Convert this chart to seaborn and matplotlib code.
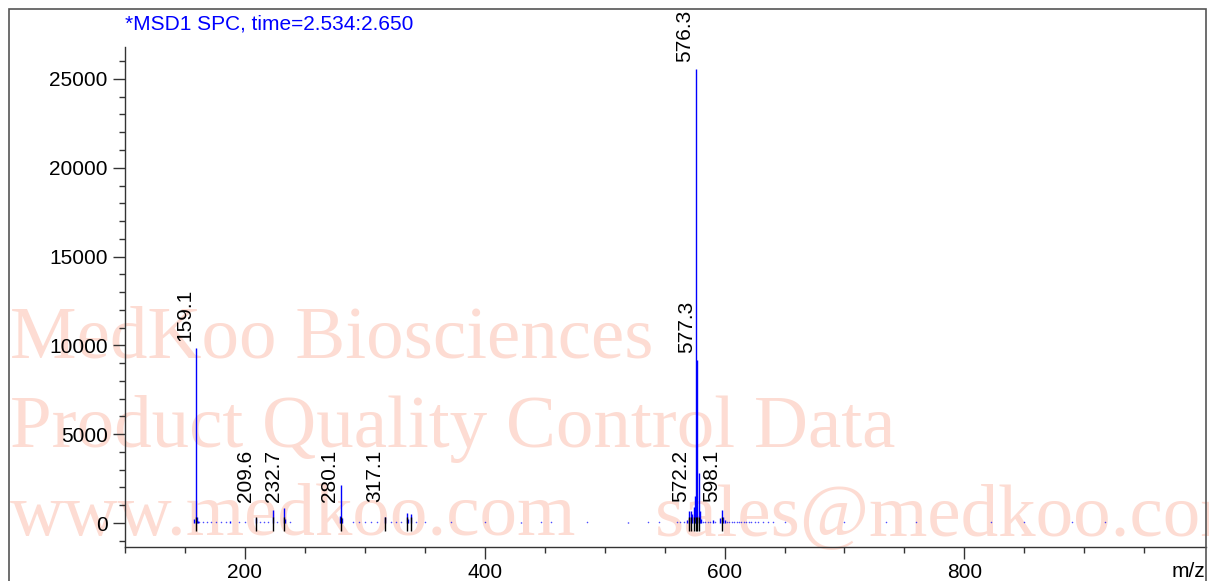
import numpy as np
import pandas as pd
import seaborn as sns
import matplotlib.pyplot as plt
from matplotlib.ticker import MultipleLocator, FixedLocator
from matplotlib.patches import Rectangle

# peak list (m/z, abundance)
mz = [157.9, 159.1, 160.1, 161.1, 187.6, 209.6, 223.3, 232.7, 233.7, 279.1, 280.1, 281.1,
      317.1, 335.4, 336.4, 338.4, 430.6, 519.8, 568.3, 570.3, 572.2, 573.2, 574.3, 575.3,
      576.3, 577.3, 578.3, 579.3, 580.3, 590.1, 596.1, 598.1, 599.1, 600.1]
abundance = [250, 9850, 350, 120, 90, 300, 730, 850, 200, 400, 2140, 300,
             340, 560, 200, 500, 80, 60, 150, 650, 700, 500, 900, 1500,
             25560, 9200, 2800, 700, 250, 150, 300, 730, 350, 150]

# peaks with black integration marks
marked = [159.1, 209.6, 223.3, 232.7, 280.1, 317.1, 335.4, 338.4, 570.3, 572.2,
          574.3, 576.3, 577.3, 578.3, 598.1]

# labelled peaks
labels = [159.1, 209.6, 232.7, 280.1, 317.1, 572.2, 577.3, 576.3, 598.1]

# baseline noise points
noise = [162, 165, 168, 172, 176, 180, 184, 195, 200, 213, 216, 219, 227, 238, 290, 295,
         300, 305, 310, 322, 326, 330, 343, 350, 372, 400, 447, 455, 485, 536, 545, 560,
         563, 566, 582, 584, 586, 588, 592, 602, 604, 606, 608, 610, 612, 614, 616, 618,
         620, 622, 625, 628, 632, 636, 640, 650, 700, 735, 760, 822, 850, 890, 917]

x_major = [200, 400, 600, 800]

df = pd.DataFrame({"mz": mz, "abundance": abundance})
noise_df = pd.DataFrame({"mz": noise, "abundance": [30] * len(noise)})

sns.set_theme(style="ticks")
plt.rcParams['font.family'] = ['Liberation Sans', 'DejaVu Sans']

fig = plt.figure(figsize=(12.09, 5.81), dpi=100)
ax = fig.add_axes([125 / 1209, 34 / 581, (1206 - 125) / 1209, (547 - 47) / 581])
ax.patch.set_alpha(0)

# watermark
wm = dict(family='Liberation Serif', fontsize=54, color='#fddcd3', zorder=-5, va='baseline')
fig.text(10 / 1209, 1 - 357 / 581, "MedKoo Biosciences", **wm)
fig.text(10 / 1209, 1 - 447 / 581, "Product Quality Control Data", **wm)
fig.text(10 / 1209, 1 - 535 / 581, "www.medkoo.com", **wm)
fig.text(655 / 1209, 1 - 535 / 581, "sales@medkoo.com", **wm)

ax.vlines(df["mz"], 0, df["abundance"], color='#0000ff', lw=1)
sns.scatterplot(data=noise_df, x="mz", y="abundance", ax=ax, color='#0000ff',
                marker='.', s=5, linewidth=0, alpha=0.7)
ax.vlines(marked, -450, 350, color='black', lw=1)

for m in labels:
    h = df.loc[df["mz"] == m, "abundance"].iloc[0]
    y = h if h > 5000 else 800
    ax.annotate(f"{m:.1f}", (m, y), xytext=(-11, 7), textcoords='offset pixels',
                rotation=90, ha='center', va='bottom', fontsize=15, color='black')

ax.set_xlim(100, 1001.5)
ax.set_ylim(-1350, 26800)
ax.xaxis.set_major_locator(FixedLocator(x_major))
ax.xaxis.set_minor_locator(FixedLocator(list(range(100, 1000, 50))))
ax.yaxis.set_major_locator(MultipleLocator(5000))
ax.yaxis.set_minor_locator(MultipleLocator(1000))
ax.tick_params(which='major', length=8.5, width=1, labelsize=15, color='#333333',
               labelcolor='black', pad=4)
ax.tick_params(which='minor', length=4.3, width=1, color='#333333')
ax.tick_params(axis='x', which='major', pad=3)
ax.set_xlabel("")
ax.set_ylabel("")
for s in ['top', 'right']:
    ax.spines[s].set_visible(False)
for s in ['left', 'bottom']:
    ax.spines[s].set_color('#333333')
    ax.spines[s].set_linewidth(1)

fig.text(125 / 1209, 1 - 30 / 581, "*MSD1 SPC, time=2.534:2.650", color='#0000ff',
         fontsize=15, va='baseline', ha='left')
fig.text(1205 / 1209, 1 - 577 / 581, "m/z", fontsize=15, ha='right', va='baseline',
         color='black')

fig.patches.append(Rectangle((9 / 1209, -0.01), (1206 - 9) / 1209, 1 - 9 / 581 + 0.01,
                             transform=fig.transFigure, fill=False, edgecolor='#555555',
                             lw=1.2))

fig.savefig("out.png", dpi=100)
